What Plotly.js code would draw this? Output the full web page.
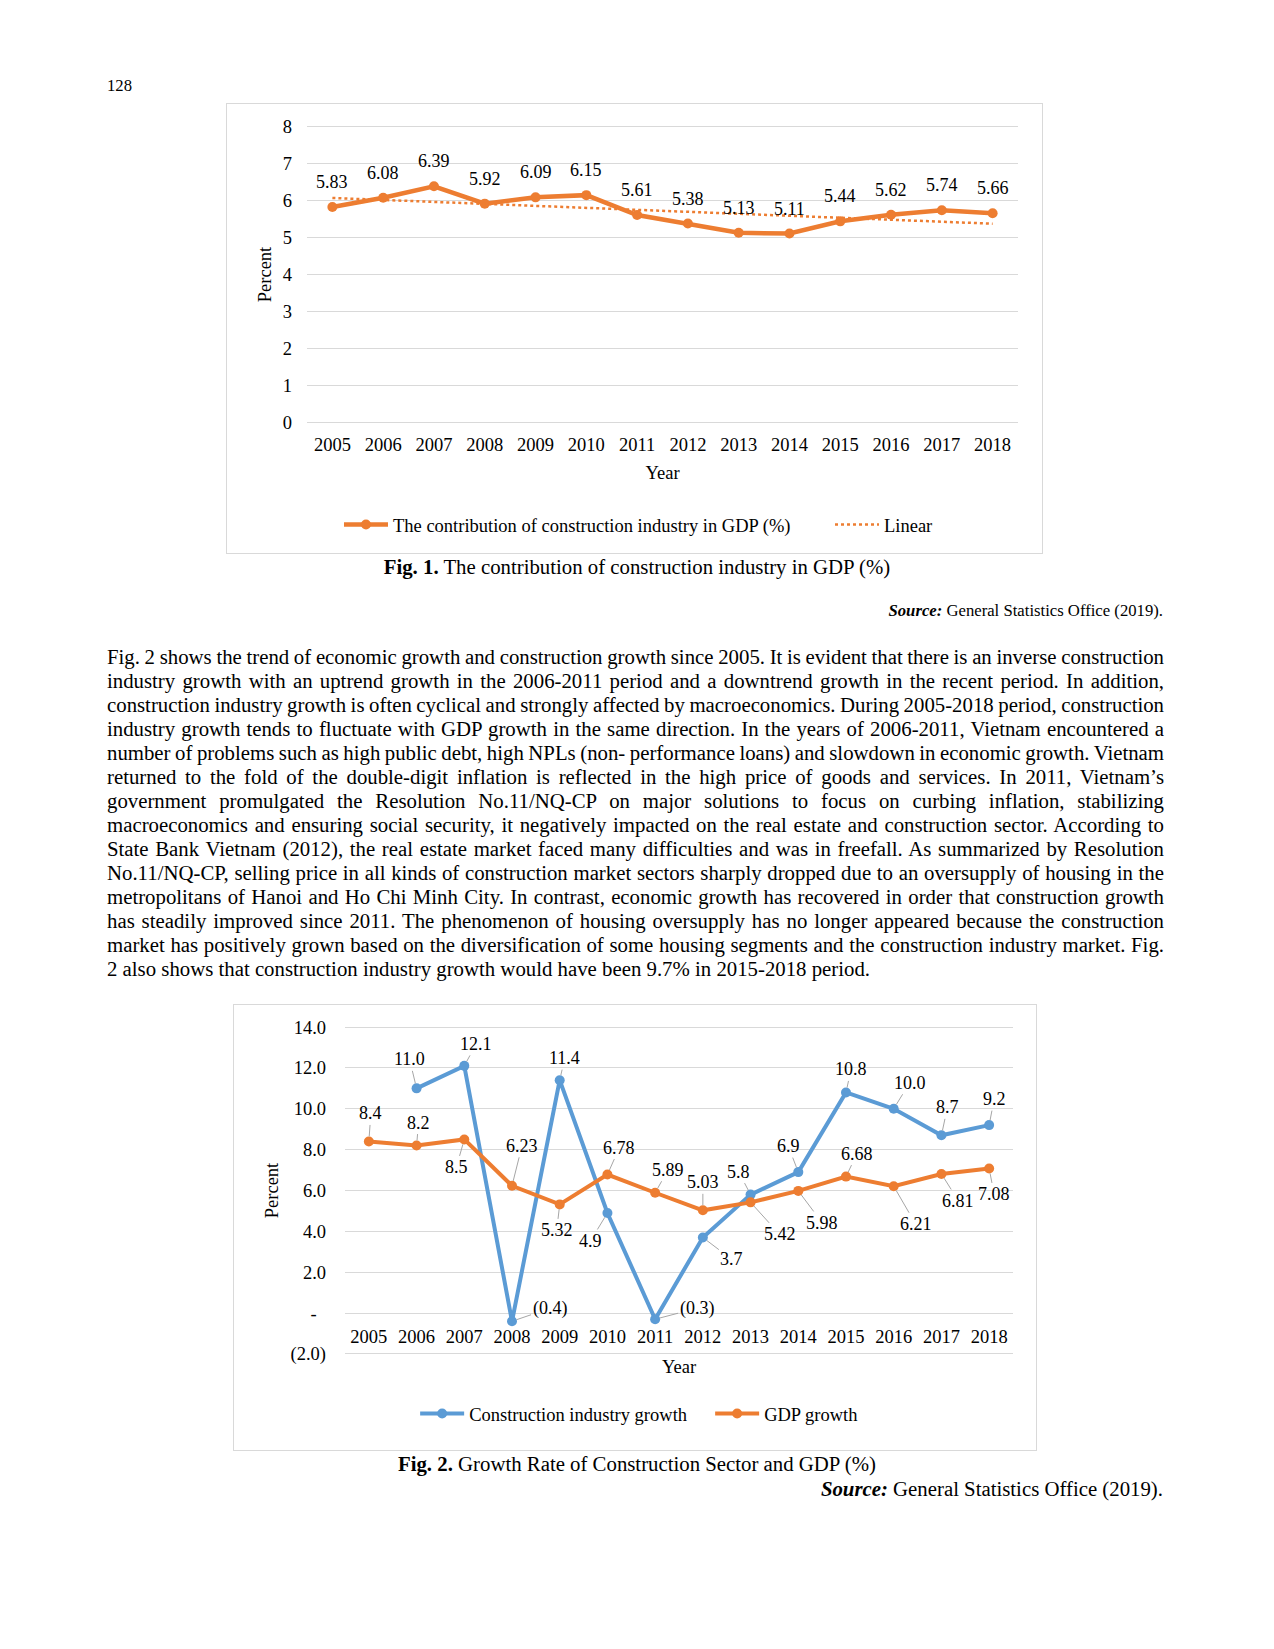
<!DOCTYPE html>
<html><head><meta charset="utf-8">
<script src="https://cdn.plot.ly/plotly-3.0.1.min.js"></script>
<style>
html,body{margin:0;padding:0;background:#fff;}
#page{position:relative;width:1274px;height:1649px;font-family:"Liberation Serif","Times New Roman",serif;color:#000;overflow:hidden;}
.t{position:absolute;white-space:nowrap;line-height:24px;}
.frame{position:absolute;border:1px solid #d9d9d9;}
.jl{position:absolute;left:107px;width:1057px;white-space:nowrap;font-size:20.8px;line-height:24px;}
</style></head>
<body>
<div id="page">
  <div class="t" style="left:107px;top:76px;font-size:16.7px;line-height:20px;">128</div>
  <div class="frame" style="left:226px;top:103px;width:815px;height:449px;"><div id="c1"></div></div>
  <div class="t" style="left:0;width:1274px;text-align:center;top:555px;font-size:20.8px;"><b>Fig. 1.</b> The contribution of construction industry in GDP (%)</div>
  <div class="t" style="right:111px;top:599px;font-size:16.7px;"><b><i>Source:</i></b> General Statistics Office (2019).</div>
  <div id="para"></div>
  <div class="frame" style="left:233px;top:1004px;width:802px;height:445px;"><div id="c2"></div></div>
  <div class="t" style="left:0;width:1274px;text-align:center;top:1452px;font-size:20.8px;"><b>Fig. 2.</b> Growth Rate of Construction Sector and GDP (%)</div>
  <div class="t" style="right:111px;top:1477px;font-size:20.8px;"><b><i>Source:</i></b> General Statistics Office (2019).</div>
</div>
<script>
// ---------- DATA ----------
const years = ['2005','2006','2007','2008','2009','2010','2011','2012','2013','2014','2015','2016','2017','2018'];
const contributionGDP = [5.83,6.08,6.39,5.92,6.09,6.15,5.61,5.38,5.13,5.11,5.44,5.62,5.74,5.66];
const constructionGrowth = [null,11.0,12.1,-0.4,11.4,4.9,-0.3,3.7,5.8,6.9,10.8,10.0,8.7,9.2];
const gdpGrowth = [8.4,8.2,8.5,6.23,5.32,6.78,5.89,5.03,5.42,5.98,6.68,6.21,6.81,7.08];
const yTickVals2 = [-2,0,2,4,6,8,10,12,14];
const yTickLabels2 = ['(2.0)','-\u00a0\u00a0','2.0','4.0','6.0','8.0','10.0','12.0','14.0'];

const paragraphLines = [
"Fig. 2 shows the trend of economic growth and construction growth since 2005. It is evident that there is an inverse construction",
"industry growth with an uptrend growth in the 2006-2011 period and a downtrend growth in the recent period. In addition,",
"construction industry growth is often cyclical and strongly affected by macroeconomics. During 2005-2018 period, construction",
"industry growth tends to fluctuate with GDP growth in the same direction. In the years of 2006-2011, Vietnam encountered a",
"number of problems such as high public debt, high NPLs (non- performance loans) and slowdown in economic growth. Vietnam",
"returned to the fold of the double-digit inflation is reflected in the high price of goods and services. In 2011, Vietnam\u2019s",
"government promulgated the Resolution No.11/NQ-CP on major solutions to focus on curbing inflation, stabilizing",
"macroeconomics and ensuring social security, it negatively impacted on the real estate and construction sector. According to",
"State Bank Vietnam (2012), the real estate market faced many difficulties and was in freefall. As summarized by Resolution",
"No.11/NQ-CP, selling price in all kinds of construction market sectors sharply dropped due to an oversupply of housing in the",
"metropolitans of Hanoi and Ho Chi Minh City. In contrast, economic growth has recovered in order that construction growth",
"has steadily improved since 2011. The phenomenon of housing oversupply has no longer appeared because the construction",
"market has positively grown based on the diversification of some housing segments and the construction industry market. Fig.",
"2 also shows that construction industry growth would have been 9.7% in 2015-2018 period."
];

// ---------- label placement (px offsets) ----------
const blueLabelOffsets = [[0,0],[-7,-29],[12,-22],[38,-13],[5,-22],[-17,28],[42,-11],[29,22],[-12,-23],[-10,-26],[5,-23],[16,-26],[6,-28],[5,-26]];
const orangeLabelOffsets = [[2,-28],[2,-23],[-8,28],[10,-40],[-3,26],[12,-27],[13,-23],[0,-28],[29,32],[24,32],[11,-23],[22,38],[17,27],[5,26]];

// ---------- paragraph ----------
const para = document.getElementById('para');
paragraphLines.forEach((ln,i)=>{
  const d = document.createElement('div');
  d.className='jl';
  d.style.top = (645 + i*24) + 'px';
  const s = document.createElement('span');
  s.textContent = ln;
  d.appendChild(s);
  para.appendChild(d);
});
function justify(){
  const divs = para.querySelectorAll('.jl');
  divs.forEach((d,i)=>{
    if(i===divs.length-1) return;
    const s = d.firstChild;
    s.style.wordSpacing='0px';
    const w = s.getBoundingClientRect().width;
    const n = (s.textContent.match(/ /g)||[]).length;
    s.style.wordSpacing = ((1057-w)/n) + 'px';
  });
}
justify();
if(document.fonts && document.fonts.ready) document.fonts.ready.then(justify);

// ---------- Chart 1 ----------
const ORANGE = '#ED7D31', BLUE = '#5B9BD5', GRID = '#D9D9D9';
const FONT = 'Liberation Serif, Times New Roman, serif';
const n = contributionGDP.length;
let sx=0,sy=0,sxy=0,sxx=0;
contributionGDP.forEach((v,i)=>{sx+=i;sy+=v;sxy+=i*v;sxx+=i*i;});
const slope = (n*sxy - sx*sy)/(n*sxx - sx*sx);
const intercept = (sy - slope*sx)/n;
const trend = years.map((_,i)=>intercept + slope*i);

const ann1 = contributionGDP.map((v,i)=>({
  x: i, y: v, xref:'x', yref:'y', text: String(v), showarrow:false,
  yshift: 25, font:{family:FONT,size:18,color:'#000'}
}));

Plotly.newPlot('c1', [
  {x: years, y: contributionGDP, type:'scatter', mode:'lines+markers',
   name:'The contribution of construction industry in GDP (%)',
   line:{color:ORANGE,width:4.5}, marker:{color:ORANGE,size:10}, legend:'legend'},
  {x: years, y: trend, type:'scatter', mode:'lines', name:'Linear',
   line:{color:ORANGE,width:2.5,dash:'dot'}, hoverinfo:'skip', legend:'legend2'}
], {
  width:815, height:449,
  margin:{l:80,r:24,t:21,b:129,autoexpand:false},
  paper_bgcolor:'#fff', plot_bgcolor:'#fff',
  font:{family:FONT,size:18.5,color:'#000'},
  xaxis:{type:'category', range:[-0.5,13.5], showgrid:false, zeroline:false, showline:false,
         ticks:'', ticklabelstandoff:7, tickfont:{size:18.5},
         title:{text:'Year', standoff:12, font:{size:18.5}}},
  yaxis:{range:[-0.05,8.05], tickmode:'linear', tick0:0, dtick:1, showgrid:true, gridcolor:GRID, gridwidth:1,
         zeroline:false, showline:false, ticks:'', ticklabelstandoff:14, tickfont:{size:18.5},
         title:{text:'Percent', standoff:6, font:{size:18.5}}},
  showlegend:true,
  legend:{orientation:'h', x:0.045, xanchor:'left', y:-0.338, yanchor:'middle',
          itemwidth:44, font:{size:18.5}, bgcolor:'rgba(0,0,0,0)'},
  legend2:{orientation:'h', x:0.7356, xanchor:'left', y:-0.338, yanchor:'middle',
          itemwidth:44, font:{size:18.5}, bgcolor:'rgba(0,0,0,0)'},
  annotations: ann1
}, {staticPlot:true, displayModeBar:false});

// ---------- Chart 2 ----------
const fmtBlue = v => v<0 ? '(' + Math.abs(v).toFixed(1) + ')' : v.toFixed(1);
const ann2 = [];
constructionGrowth.forEach((v,i)=>{
  if(v===null) return;
  ann2.push({x: i, y: v, xref:'x', yref:'y', text: fmtBlue(v), showarrow:true,
    arrowhead:0, arrowwidth:1, arrowcolor:'#A6A6A6', standoff:5,
    ax: blueLabelOffsets[i][0], ay: blueLabelOffsets[i][1],
    font:{family:FONT,size:18,color:'#000'}});
});
gdpGrowth.forEach((v,i)=>{
  ann2.push({x: i, y: v, xref:'x', yref:'y', text: String(v), showarrow:true,
    arrowhead:0, arrowwidth:1, arrowcolor:'#A6A6A6', standoff:5,
    ax: orangeLabelOffsets[i][0], ay: orangeLabelOffsets[i][1],
    font:{family:FONT,size:18,color:'#000'}});
});
const yr2 = [-2.1, 14.1];

Plotly.newPlot('c2', [
  {x: years, y: constructionGrowth, type:'scatter', mode:'lines+markers', name:'Construction industry growth',
   line:{color:BLUE,width:4}, marker:{color:BLUE,size:10}, connectgaps:false},
  {x: years, y: gdpGrowth, type:'scatter', mode:'lines+markers', name:'GDP growth',
   line:{color:ORANGE,width:4}, marker:{color:ORANGE,size:10}}
], {
  width:802, height:445,
  margin:{l:111,r:23,t:20,b:94,autoexpand:false},
  paper_bgcolor:'#fff', plot_bgcolor:'#fff',
  font:{family:FONT,size:18.5,color:'#000'},
  xaxis:{type:'category', range:[-0.5,13.5], anchor:'free', position:(0-yr2[0])/(yr2[1]-yr2[0]),
         showgrid:false, zeroline:false, showline:false,
         ticks:'', ticklabelstandoff:10, tickfont:{size:18.5},
         title:{text:'Year', standoff:14, font:{size:18.5}}},
  yaxis:{range:yr2, tickmode:'array', tickvals:yTickVals2, ticktext:yTickLabels2,
         showgrid:true, gridcolor:GRID, gridwidth:1, zeroline:false, showline:false,
         ticks:'', ticklabelstandoff:18, tickfont:{size:18.5},
         title:{text:'Percent', standoff:7, font:{size:18.5}}},
  showlegend:true,
  legend:{orientation:'h', x:0.105, xanchor:'left', y:-0.175, yanchor:'middle',
          itemwidth:44, entrywidth:236, font:{size:18.5}, bgcolor:'rgba(0,0,0,0)'},
  annotations: ann2
}, {staticPlot:true, displayModeBar:false});
</script>
</body></html>
